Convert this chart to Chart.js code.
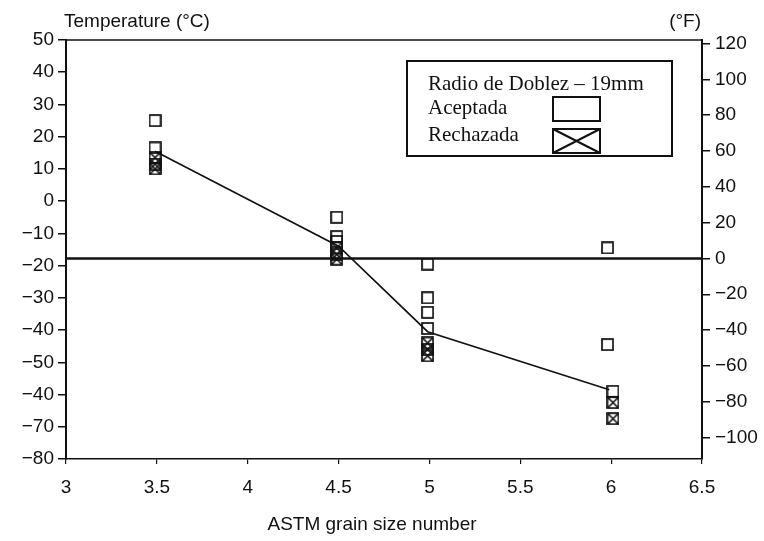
<!DOCTYPE html>
<html>
<head>
<meta charset="utf-8">
<script src="https://cdn.jsdelivr.net/npm/chart.js@4.4.0/dist/chart.umd.min.js"></script>
<style>
  html, body { margin: 0; padding: 0; background: #fff; }
  #wrap { width: 764px; height: 541px; }
</style>
</head>
<body>
<div id="wrap"><canvas id="myChart" width="764" height="541"></canvas></div>
<script>
// bend test results by grain size, 19 mm bend radius
var acceptedX = [3.49, 3.49, 4.49, 4.49, 4.49, 4.99, 4.99, 4.99, 4.99, 5.98, 5.98, 6.01];
var acceptedY = [25, 16.5, -5, -11, -12.5, -19.5, -30, -34.5, -39.5, -14.5, -44.5, -59];
var rejectedX = [3.49, 3.49, 3.49, 4.49, 4.49, 4.49, 4.99, 4.99, 4.99, 6.01, 6.01];
var rejectedY = [13.5, 11.5, 10, -14.5, -16.5, -18, -44, -46, -48, -62.5, -67.5];
var trendX = [3.49, 4.5, 4.99, 5.99];
var trendY = [15.5, -14, -40.5, -58.5];

var xTicks = [3, 3.5, 4, 4.5, 5, 5.5, 6, 6.5];
var xTickLabels = ['3', '3.5', '4', '4.5', '5', '5.5', '6', '6.5'];
var cTicks = [50, 40, 30, 20, 10, 0, -10, -20, -30, -40, -50, -60, -70, -80];
var cTickLabels = ['50', '40', '30', '20', '10', '0', '\u221210', '\u221220', '\u221230', '\u221240', '\u221250', '\u221240', '\u221270', '\u221280'];
var fTicks = [120, 100, 80, 60, 40, 20, 0, -20, -40, -60, -80, -100];
var fTickLabels = ['120', '100', '80', '60', '40', '20', '0', '\u221220', '\u221240', '\u221260', '\u221280', '\u2212100'];

function cToF(c) { return c * 9 / 5 + 32; }
function fToC(f) { return (f - 32) * 5 / 9; }

function toPoints(xs, ys) {
  var pts = [];
  for (var i = 0; i < xs.length; i++) {
    pts.push({x: xs[i], y: ys[i]});
  }
  return pts;
}

// open square, optionally crossed
function makeMarker(crossed) {
  var c = document.createElement('canvas');
  c.width = 13; c.height = 13;
  var g = c.getContext('2d');
  g.strokeStyle = '#111';
  g.lineWidth = 1.7;
  g.strokeRect(1, 1, 11, 11);
  if (crossed) {
    g.beginPath();
    g.moveTo(1, 1); g.lineTo(12, 12);
    g.moveTo(12, 1); g.lineTo(1, 12);
    g.stroke();
  }
  return c;
}

var zeroF = fToC(0);

var decorPlugin = {
  id: 'decor',
  afterDraw: function(chart) {
    var ctx = chart.ctx;
    var area = chart.chartArea;
    ctx.save();
    // top frame line
    ctx.strokeStyle = '#111';
    ctx.lineWidth = 1.5;
    ctx.beginPath();
    ctx.moveTo(area.left, area.top);
    ctx.lineTo(area.right, area.top);
    ctx.stroke();

    // axis captions
    ctx.fillStyle = '#111';
    ctx.font = '19px "Liberation Sans", Arial, sans-serif';
    ctx.textBaseline = 'alphabetic';
    ctx.textAlign = 'left';
    ctx.fillText('Temperature (\u00B0C)', 64, 27);
    ctx.textAlign = 'right';
    ctx.fillText('(\u00B0F)', 701, 27);
    ctx.textAlign = 'center';
    ctx.textBaseline = 'middle';
    ctx.fillText('ASTM grain size number', 372, 525);

    // legend box
    ctx.lineWidth = 2;
    ctx.strokeRect(407, 61, 265, 95);
    ctx.font = '21px "Liberation Serif", "Times New Roman", serif';
    ctx.textAlign = 'left';
    ctx.textBaseline = 'alphabetic';
    ctx.fillText('Radio de Doblez \u2013 19mm', 428, 90);
    ctx.fillText('Aceptada', 428, 114);
    ctx.fillText('Rechazada', 428, 141);
    ctx.strokeRect(553, 97, 47, 24);
    ctx.strokeRect(553, 129, 47, 24);
    ctx.beginPath();
    ctx.moveTo(553, 129); ctx.lineTo(600, 153);
    ctx.moveTo(600, 129); ctx.lineTo(553, 153);
    ctx.stroke();
    ctx.restore();
  }
};

var tickFont = {family: '"Liberation Sans", Arial, sans-serif', size: 19};

var ctx = document.getElementById('myChart');
var myChart = new Chart(ctx, {
  type: 'scatter',
  data: {
    datasets: [
      {
        label: 'Aceptada',
        data: toPoints(acceptedX, acceptedY),
        pointStyle: makeMarker(false),
        pointRadius: 6,
        yAxisID: 'y'
      },
      {
        label: 'Rechazada',
        data: toPoints(rejectedX, rejectedY),
        pointStyle: makeMarker(true),
        pointRadius: 6,
        yAxisID: 'y'
      },
      {
        label: 'trend',
        data: toPoints(trendX, trendY),
        showLine: true,
        borderColor: '#111',
        borderWidth: 1.6,
        pointRadius: 0,
        yAxisID: 'y'
      },
      {
        label: '0 F',
        data: [{x: 3, y: zeroF}, {x: 6.5, y: zeroF}],
        showLine: true,
        borderColor: '#111',
        borderWidth: 2.5,
        pointRadius: 0,
        yAxisID: 'y'
      }
    ]
  },
  options: {
    responsive: false,
    animation: false,
    layout: {padding: {top: 40, left: 0, right: 0, bottom: 0}},
    plugins: {
      legend: {display: false},
      tooltip: {enabled: false}
    },
    scales: {
      x: {
        type: 'linear',
        min: 3,
        max: 6.5,
        afterBuildTicks: function(scale) {
          scale.ticks = xTicks.map(function(v) { return {value: v}; });
        },
        afterFit: function(scale) { scale.height = 82; },
        grid: {drawOnChartArea: false, tickLength: 5, color: '#111', lineWidth: 1.2},
        border: {color: '#111', width: 1.6},
        ticks: {
          color: '#111',
          font: tickFont,
          padding: 12,
          maxRotation: 0,
          callback: function(value) { return xTickLabels[xTicks.indexOf(value)]; }
        }
      },
      y: {
        type: 'linear',
        position: 'left',
        min: -80,
        max: 50,
        afterBuildTicks: function(scale) {
          scale.ticks = cTicks.map(function(v) { return {value: v}; });
        },
        afterFit: function(scale) { scale.width = 66; },
        grid: {drawOnChartArea: false, tickLength: 8, color: '#111', lineWidth: 1.5},
        border: {color: '#111', width: 2},
        ticks: {
          color: '#111',
          font: tickFont,
          padding: 4,
          callback: function(value) { return cTickLabels[cTicks.indexOf(value)]; }
        }
      },
      yF: {
        type: 'linear',
        position: 'right',
        min: cToF(-80),
        max: cToF(50),
        afterBuildTicks: function(scale) {
          scale.ticks = fTicks.map(function(v) { return {value: v}; });
        },
        afterFit: function(scale) { scale.width = 62; },
        grid: {drawOnChartArea: false, tickLength: 8, color: '#111', lineWidth: 1.5},
        border: {color: '#111', width: 2},
        ticks: {
          color: '#111',
          font: tickFont,
          padding: 5,
          callback: function(value) { return fTickLabels[fTicks.indexOf(value)]; }
        }
      }
    }
  },
  plugins: [decorPlugin]
});
</script>
</body>
</html>
